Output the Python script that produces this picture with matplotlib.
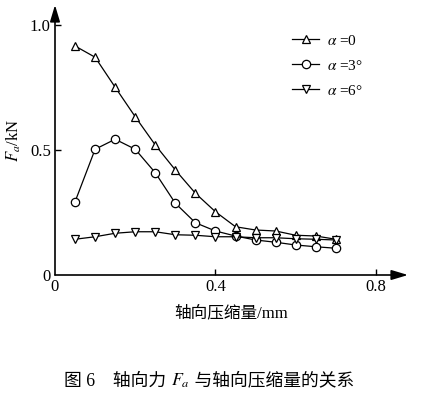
import matplotlib
matplotlib.use("Agg")
import matplotlib.pyplot as plt

plt.rcParams['font.family'] = ['Liberation Serif', 'Noto Sans CJK SC', 'DejaVu Sans']
plt.rcParams['mathtext.fontset'] = 'stix'

x = [0.05, 0.10, 0.15, 0.20, 0.25, 0.30, 0.35, 0.40, 0.45, 0.50, 0.55, 0.60, 0.65, 0.70]
f_a0 = [0.916, 0.871, 0.751, 0.633, 0.520, 0.420, 0.327, 0.253, 0.193, 0.180, 0.176, 0.159, 0.156, 0.143]
f_a3 = [0.293, 0.503, 0.543, 0.503, 0.409, 0.287, 0.209, 0.176, 0.156, 0.140, 0.131, 0.120, 0.113, 0.107]
f_a6 = [0.143, 0.153, 0.167, 0.173, 0.173, 0.161, 0.159, 0.153, 0.153, 0.149, 0.149, 0.145, 0.143, 0.140]
labels = [r'$\alpha$ =0', r'$\alpha$ =3°', r'$\alpha$ =6°']
xticks = [0, 0.4, 0.8]
xticklabels = ['0', '0.4', '0.8']
yticks = [0, 0.5, 1.0]
yticklabels = ['0', '0.5', '1.0']

fig = plt.figure(figsize=(4.27, 3.95), dpi=100)
ax = fig.add_axes([55/427, 120/395, 353/427, 270/395])

common = dict(color='black', lw=0.9, markerfacecolor='white', markeredgecolor='black', markersize=6, markeredgewidth=0.9)
ax.plot(x, f_a0, marker='^', label=labels[0], **common)
ax.plot(x, f_a3, marker='o', label=labels[1], **common)
ax.plot(x, f_a6, marker='v', label=labels[2], **common)

ax.set_xlim(0, 0.88)
ax.set_ylim(0, 1.08)
for s in ['top', 'right', 'left', 'bottom']:
    ax.spines[s].set_visible(False)

ax.annotate('', xy=(1.0, 0), xytext=(0, 0), xycoords='axes fraction',
            arrowprops=dict(arrowstyle='-|>,head_length=1.0,head_width=0.3', color='black', lw=1.2, shrinkA=0, shrinkB=0))
ax.annotate('', xy=(0, 1.0), xytext=(0, 0), xycoords='axes fraction',
            arrowprops=dict(arrowstyle='-|>,head_length=1.0,head_width=0.3', color='black', lw=1.2, shrinkA=0, shrinkB=0))

ax.set_xticks(xticks)
ax.set_xticklabels(xticklabels)
ax.set_yticks(yticks)
ax.set_yticklabels(yticklabels)
ax.tick_params(direction='in', length=4, width=1, labelsize=12, pad=3)
ax.xaxis.get_major_ticks()[0].tick1line.set_visible(False)
ax.yaxis.get_major_ticks()[0].tick1line.set_visible(False)

ax.set_ylabel(r'$F_a$/kN', fontsize=12, labelpad=5)
ax.set_xlabel('轴向压缩量/mm', fontsize=12, labelpad=7)

leg = ax.legend(loc='upper left', bbox_to_anchor=(0.632, 0.945), frameon=False, fontsize=11,
                handlelength=1.8, labelspacing=0.72, handletextpad=0.5)

# caption in three pieces so CJK and math render at full size
fig.canvas.draw()
renderer = fig.canvas.get_renderer()
cap_y = 14/395
parts = ['图 6　轴向力 ', r'$F_a$', ' 与轴向压缩量的关系']
texts = [fig.text(0, cap_y, p, ha='left', va='center', fontsize=12.8) for p in parts]
widths = [t.get_window_extent(renderer).width for t in texts]
total = sum(widths)
xpix = 209 - total / 2
for t, w in zip(texts, widths):
    t.set_x(xpix / 427)
    xpix += w

fig.savefig('out.png', dpi=100)
